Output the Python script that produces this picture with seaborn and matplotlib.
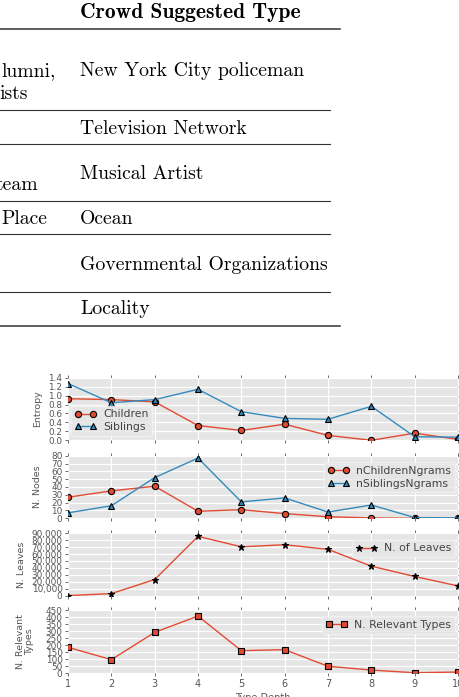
import numpy as np
import seaborn as sns
import matplotlib.pyplot as plt
from matplotlib.lines import Line2D
from matplotlib.ticker import FuncFormatter, MultipleLocator

# data
depth = [1, 2, 3, 4, 5, 6, 7, 8, 9, 10]
entropy_children = [0.93, 0.91, 0.86, 0.33, 0.22, 0.36, 0.11, 0.0, 0.16, 0.02]
entropy_siblings = [1.27, 0.84, 0.91, 1.14, 0.64, 0.49, 0.47, 0.76, 0.08, 0.07]
n_children_ngrams = [27, 35, 41, 9, 11, 6, 2, 0.5, 0, 0]
n_siblings_ngrams = [7, 16, 52, 77, 21, 26, 8, 17, 1, 0.5]
n_leaves = [0, 2900, 23200, 85600, 70500, 73500, 66800, 42500, 27600, 14000]
n_relevant = [185, 97, 291, 407, 161, 168, 50, 23, 4, 9]

table_left = ["lumni,", "ists", "team", "Place"]
table_right = ["New York City policeman", "Television Network", "Musical Artist",
               "Ocean", "Governmental Organizations", "Locality"]

plt.style.use("ggplot")
plt.rcParams["font.family"] = ["DejaVu Sans"]
plt.rcParams["axes.unicode_minus"] = False

W, H = 459, 697
fig = plt.figure(figsize=(W / 100, H / 100), dpi=100)
fig.patch.set_facecolor("white")

def fx(px):
    return px / W

def fy(py):
    return 1 - py / H

# ---- table fragment (top of the page) ----
fig.text(fx(80), fy(18.5), "Crowd Suggested Type", family="cmb10", fontsize=15.5,
         va="baseline", ha="left")
rules = [(29, 340, 1.1), (110, 330, 0.8), (144, 330, 0.8), (201, 330, 0.8),
         (234, 330, 0.8), (292, 330, 0.8), (326, 340, 1.1)]
for y, xr, lw in rules:
    fig.add_artist(Line2D([0, fx(xr)], [fy(y), fy(y)], color="#333333", lw=lw))

for txt, x, y in zip(table_left, [55.5, 27.5, 38.5, 47.5], [76, 99, 190, 224]):
    fig.text(fx(x), fy(y), txt, family="cmr10", fontsize=14.2, va="baseline", ha="right")
for txt, y in zip(table_right, [76, 133.5, 179, 224, 269.5, 314.5]):
    fig.text(fx(80), fy(y), txt, family="cmr10", fontsize=14.2, va="baseline", ha="left")

# ---- the four panels ----
red, blue = "#E24A33", "#348ABD"
panels = [(377.7, 440.3), (455.7, 518.3), (533.3, 595.6), (610.0, 673.3)]
axes = []
for top, bot in panels:
    ax = fig.add_axes([fx(68), fy(bot), fx(390), (bot - top) / H])
    axes.append(ax)

mk = dict(markeredgecolor="black", markeredgewidth=0.8, linewidth=1.0)
lg = dict(numpoints=2, fontsize=7.8, borderpad=0.35, labelspacing=0.25,
          handletextpad=0.6, borderaxespad=0.3)

ax = axes[0]
sns.lineplot(x=depth, y=entropy_children, ax=ax, color=red, marker="o", markersize=4.5,
             label="Children", **mk)
sns.lineplot(x=depth, y=entropy_siblings, ax=ax, color=blue, marker="^", markersize=4.5,
             markerfacecolor=blue, label="Siblings", **mk)
ax.set_ylim(0, 1.4)
ax.yaxis.set_major_locator(MultipleLocator(0.2))
ax.set_ylabel("Entropy")
ax.legend(loc="lower left", bbox_to_anchor=(0.0, 0.02), **lg)

ax = axes[1]
sns.lineplot(x=depth, y=n_children_ngrams, ax=ax, color=red, marker="o", markersize=4.5,
             label="nChildrenNgrams", **mk)
sns.lineplot(x=depth, y=n_siblings_ngrams, ax=ax, color=blue, marker="^", markersize=4.5,
             markerfacecolor=blue, label="nSiblingsNgrams", **mk)
ax.set_ylim(0, 80)
ax.yaxis.set_major_locator(MultipleLocator(10))
ax.set_ylabel("N. Nodes")
ax.legend(loc="upper right", bbox_to_anchor=(1.0, 0.95), **lg)

ax = axes[2]
sns.lineplot(x=depth, y=n_leaves, ax=ax, color=red, marker="*", markersize=5,
             markerfacecolor="black", label="N. of Leaves", **mk)
ax.set_ylim(0, 90000)
ax.yaxis.set_major_locator(MultipleLocator(10000))
ax.yaxis.set_major_formatter(FuncFormatter(lambda v, p: f"{v:,.0f}"))
ax.set_ylabel("N. Leaves")
ax.legend(loc="upper right", bbox_to_anchor=(1.0, 0.95), **lg)

ax = axes[3]
sns.lineplot(x=depth, y=n_relevant, ax=ax, color=red, marker="s", markersize=4.5,
             label="N. Relevant Types", **mk)
ax.set_ylim(0, 450)
ax.yaxis.set_major_locator(MultipleLocator(50))
ax.set_ylabel("N. Relevant\nTypes", linespacing=0.95)
ax.legend(loc="upper right", bbox_to_anchor=(1.0, 0.95), **lg)
ax.set_xlabel("Type Depth", fontsize=7, color="#555555", labelpad=3)

label_x = [-0.067, -0.067, -0.108, -0.088]
for i, ax in enumerate(axes):
    ax.set_xlim(1, 10)
    ax.xaxis.set_major_locator(MultipleLocator(1))
    ax.grid(True, color="white", linewidth=0.9)
    ax.set_facecolor("#E5E5E5")
    for s in ax.spines.values():
        s.set_visible(False)
    ax.tick_params(axis="both", which="major", direction="out", length=2.5, width=0.6,
                   color="#555555", labelcolor="#555555", labelsize=6.4, pad=1.5,
                   top=True, right=True, labeltop=False, labelright=False)
    ax.tick_params(axis="x", labelsize=7)
    ax.yaxis.label.set_fontsize(6.8)
    ax.yaxis.label.set_color("#555555")
    ax.yaxis.set_label_coords(label_x[i], 0.5)
    if i < 3:
        ax.tick_params(axis="x", labelbottom=False)
        ax.set_xlabel("")
    leg = ax.get_legend()
    leg.get_frame().set_facecolor("#E5E5E5")
    leg.get_frame().set_edgecolor("#F2F2F2")
    leg.get_frame().set_linewidth(1.0)
    for t in leg.get_texts():
        t.set_color("#444444")

fig.savefig("out.png", dpi=100)
